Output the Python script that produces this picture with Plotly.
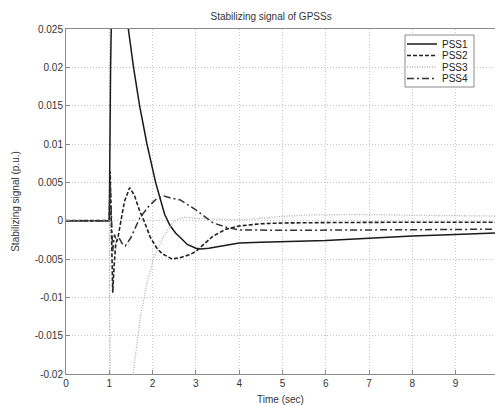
import plotly.graph_objects as go

# ---- data ----
t_pss1 = [0, 1.0, 1.03, 1.06, 1.12, 1.25, 1.35, 1.44, 1.56, 1.70, 1.87, 2.07, 2.18, 2.28, 2.40, 2.53, 2.64, 2.80, 3.0, 3.1, 3.3, 3.6, 4.0, 4.5, 5.0, 6.0, 7.0, 8.0, 9.0, 10.0]
v_pss1 = [0, 0, 0.02, 0.045, 0.05, 0.038, 0.031, 0.025, 0.02, 0.015, 0.01, 0.005, 0.0028, 0.0008, -0.0006, -0.0016, -0.0022, -0.0031, -0.0036, -0.0037, -0.0036, -0.0033, -0.0029, -0.0028, -0.0027, -0.0026, -0.0023, -0.0020, -0.0018, -0.0016]

t_pss2 = [0, 1.0, 1.02, 1.05, 1.08, 1.11, 1.15, 1.2, 1.26, 1.35, 1.47, 1.58, 1.7, 1.8, 1.95, 2.1, 2.22, 2.45, 2.65, 2.87, 3.0, 3.4, 3.7, 4.0, 4.5, 5.0, 6.0, 7.0, 8.0, 9.0, 10.0]
v_pss2 = [0, 0, 0.0064, -0.002, -0.0094, -0.006, -0.003, -0.0022, -0.0005, 0.0025, 0.0043, 0.0033, 0.0013, 0.0, -0.0022, -0.0036, -0.0043, -0.005, -0.0048, -0.0044, -0.0040, -0.0020, -0.0011, -0.0007, -0.0004, -0.0003, -0.00025, -0.0002, -0.0002, -0.0002, -0.0002]

t_pss3 = [0, 1.0, 1.03, 1.1, 1.25, 1.4, 1.55, 1.72, 1.87, 2.03, 2.26, 2.49, 2.64, 2.76, 3.0, 3.5, 4.0, 4.5, 5.0, 5.6, 6.5, 7.0, 8.0, 9.0, 10.0]
v_pss3 = [0, 0, -0.03, -0.045, -0.042, -0.03, -0.02, -0.0125, -0.0081, -0.0048, -0.002, -0.0001, 0.0003, 0.00045, 0.0003, 0.0002, 0.0001, 0.0003, 0.00056, 0.00075, 0.0008, 0.0008, 0.0007, 0.00066, 0.0006]

t_pss4 = [0, 1.0, 1.02, 1.05, 1.08, 1.12, 1.17, 1.22, 1.3, 1.37, 1.5, 1.7, 1.9, 2.1, 2.26, 2.4, 2.64, 3.0, 3.2, 3.4, 3.73, 4.0, 5.0, 6.0, 7.0, 8.0, 9.0, 10.0]
v_pss4 = [0, 0, 0.005, 0.0, -0.004, -0.0018, -0.0027, -0.0022, -0.003, -0.0033, -0.0022, 0.0003, 0.0018, 0.0029, 0.0032, 0.003, 0.0027, 0.0014, 0.0005, -0.0003, -0.0009, -0.0012, -0.00126, -0.00125, -0.0012, -0.00118, -0.00115, -0.0011]

series_names = ["PSS1", "PSS2", "PSS3", "PSS4"]

x_ticks = [0, 1, 2, 3, 4, 5, 6, 7, 8, 9, 10]
y_ticks = [-0.02, -0.015, -0.01, -0.005, 0, 0.005, 0.01, 0.015, 0.02, 0.025]
y_ticklabels = ["-0.02", "-0.015", "-0.01", "-0.005", "0", "0.005", "0.01", "0.015", "0.02", "0.025"]

FONT = "Liberation Sans, Arial, sans-serif"

# figure geometry (pixels)
W, H = 495, 405
L, R, T, B = 66, 0, 29, 31
PW, PH = W - L - R, H - T - B

def px_x(x):
    return (x - L) / PW

def px_y(y):
    return (H - B - y) / PH

styles = [
    dict(color="#1a1a1a", width=1.5),
    dict(color="#222222", width=1.6, dash="4px,2px"),
    dict(color="#b0b0b0", width=1.3, dash="1px,1.5px"),
    dict(color="#333333", width=1.5, dash="7px,3px,2px,3px"),
]
xs = [t_pss1, t_pss2, t_pss3, t_pss4]
ys = [v_pss1, v_pss2, v_pss3, v_pss4]
legend_ids = ["legend", "legend2", "legend3", "legend4"]

fig = go.Figure()
for name, x, y, st, lid in zip(series_names, xs, ys, styles, legend_ids):
    fig.add_trace(go.Scatter(x=x, y=y, name=name, mode="lines", line=st, legend=lid))

axis_common = dict(
    showgrid=True, gridcolor="#c4c4c4", griddash="1px,2px", gridwidth=1,
    showline=True, linecolor="#8a8a8a", linewidth=1, mirror=True,
    ticks="inside", ticklen=4, tickcolor="#8a8a8a",
    zeroline=False,
    tickfont=dict(family=FONT, size=10, color="#333333"),
)

legend_common = dict(
    xanchor="left", yanchor="middle",
    bgcolor="rgba(0,0,0,0)", borderwidth=0,
    font=dict(family=FONT, size=10, color="#222222"),
    itemwidth=30,
)
entry_y = [44, 55.5, 67, 78.5]
leg_x = px_x(402)

layout_legends = {}
for lid, ey in zip(legend_ids, entry_y):
    layout_legends[lid] = dict(x=leg_x, y=px_y(ey), **legend_common)

fig.update_layout(
    width=W, height=H, autosize=False,
    margin=dict(l=L, r=R, t=T, b=B),
    paper_bgcolor="white", plot_bgcolor="white",
    font=dict(family=FONT, size=10, color="#333333"),
    title=dict(text="Stabilizing signal of GPSSs", x=0.478, xref="paper", xanchor="center",
               y=1 - 16 / H, yref="container", yanchor="middle",
               font=dict(family=FONT, size=10, color="#333333")),
    xaxis=dict(range=[0, 9.91], tickvals=x_ticks,
               title=dict(text="Time (sec)", standoff=7,
                          font=dict(family=FONT, size=10, color="#333333")),
               **axis_common),
    yaxis=dict(range=[-0.02, 0.025], tickvals=y_ticks, ticktext=y_ticklabels,
               title=dict(text="Stabilizing signal (p.u.)", standoff=13,
                          font=dict(family=FONT, size=10, color="#333333")),
               **axis_common),
    shapes=[dict(type="rect", xref="paper", yref="paper",
                 x0=px_x(405), x1=px_x(474), y0=px_y(87), y1=px_y(35),
                 fillcolor="white", line=dict(color="#8a8a8a", width=1), layer="above")],
    showlegend=True,
    **layout_legends,
)

fig.write_html("out.html")
